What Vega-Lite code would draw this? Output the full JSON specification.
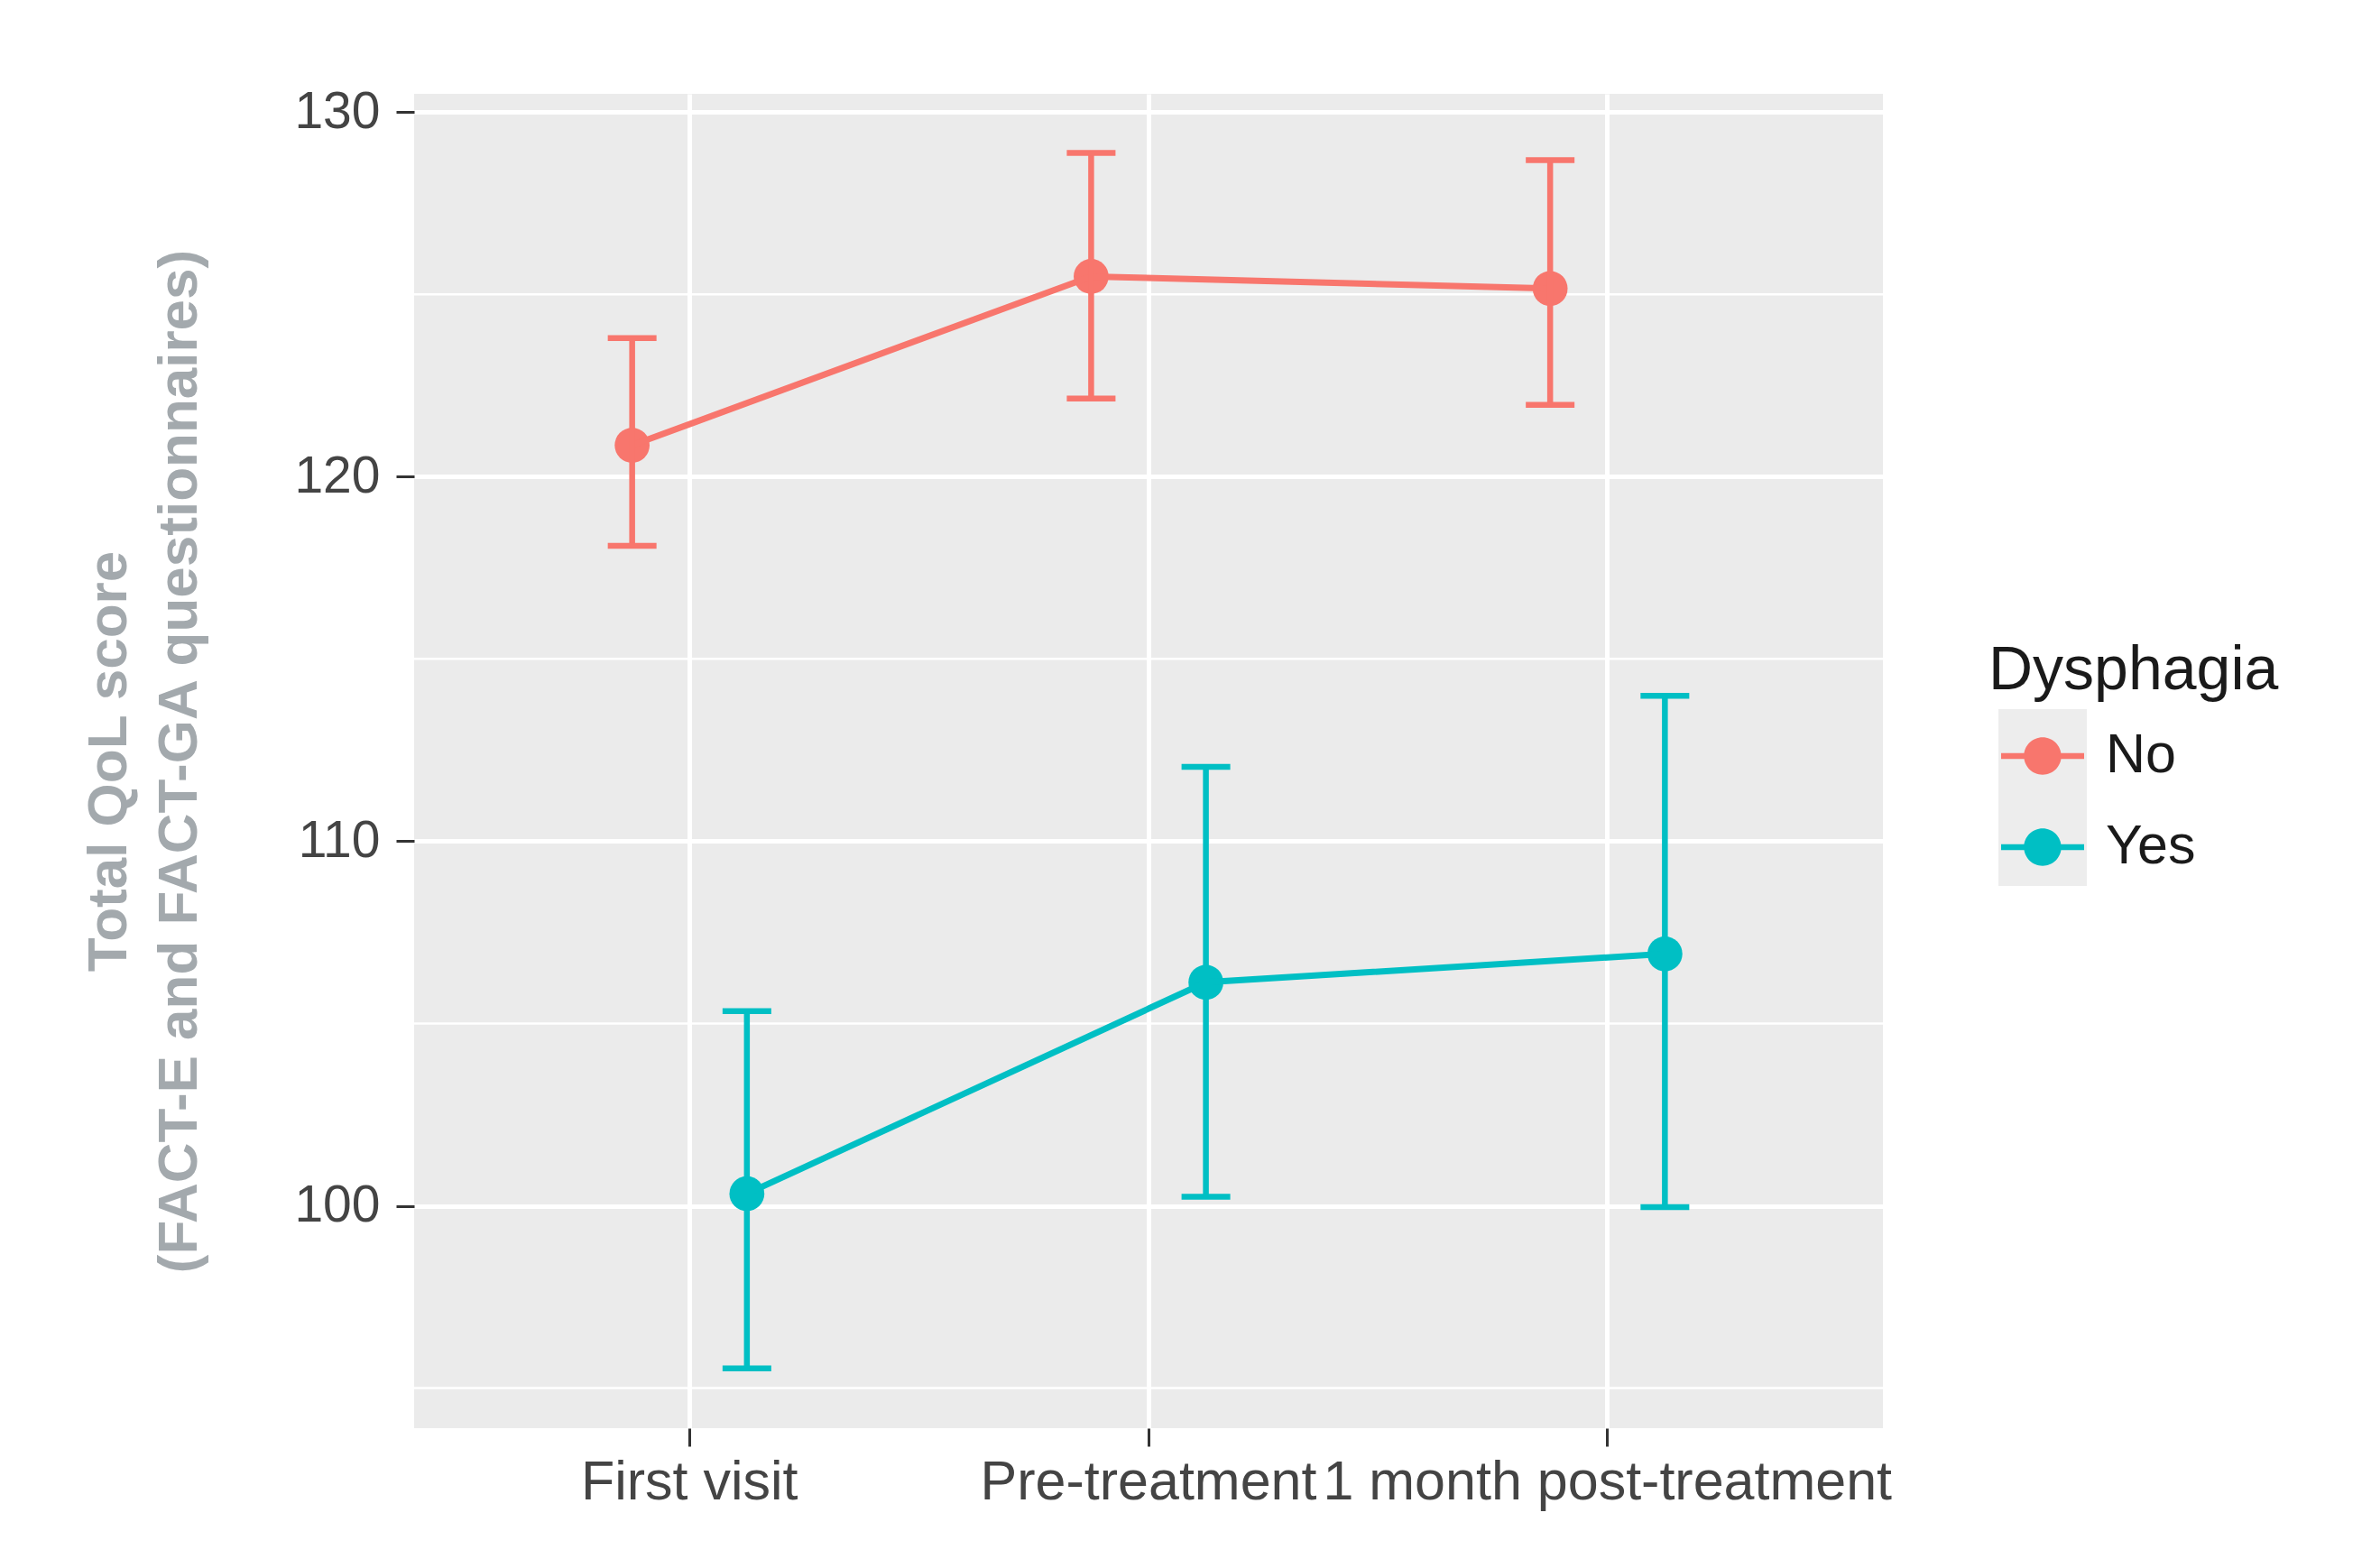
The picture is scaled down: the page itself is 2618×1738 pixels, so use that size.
{
  "$schema": "https://vega.github.io/schema/vega-lite/v6.json",
  "width": 1628,
  "height": 1479,
  "autosize": {"type": "none"},
  "padding": {"left": 459, "top": 104, "right": 531, "bottom": 155},
  "background": "white",
  "config": {
    "view": {"fill": "#EBEBEB", "stroke": null},
    "font": "Liberation Sans"
  },
  "datasets": {
    "qol": [
      {"visit": "First visit", "dysphagia": "No", "mean": 120.86, "lo": 118.1, "hi": 123.8},
      {"visit": "Pre-treatment", "dysphagia": "No", "mean": 125.49, "lo": 122.14, "hi": 128.88},
      {"visit": "1 month post-treatment", "dysphagia": "No", "mean": 125.16, "lo": 121.97, "hi": 128.68},
      {"visit": "First visit", "dysphagia": "Yes", "mean": 100.33, "lo": 95.54, "hi": 105.34},
      {"visit": "Pre-treatment", "dysphagia": "Yes", "mean": 106.13, "lo": 100.25, "hi": 112.04},
      {"visit": "1 month post-treatment", "dysphagia": "Yes", "mean": 106.91, "lo": 99.96, "hi": 113.99}
    ],
    "minor": [{"v": 95}, {"v": 105}, {"v": 115}, {"v": 125}]
  },
  "data": {"name": "qol"},
  "layer": [
    {
      "data": {"name": "minor"},
      "mark": {"type": "rule", "color": "white", "strokeWidth": 2.5},
      "encoding": {
        "y": {"field": "v", "type": "quantitative", "scale": {"domain": [93.9, 130.5], "nice": false, "zero": false},
          "axis": {
            "values": [100, 110, 120, 130],
            "title": ["Total QoL score", "(FACT-E and FACT-GA questionnaires)"],
            "titleFontSize": 62, "titleFontWeight": "bold", "titleColor": "#a3a9ad",
            "titleLineHeight": 78, "titlePadding": 95,
            "labelFontSize": 57, "labelColor": "#444444", "labelPadding": 18,
            "tickSize": 20, "tickColor": "#333333", "tickWidth": 3,
            "grid": true, "gridColor": "white", "gridWidth": 5, "domain": false
          }
        }
      }
    },
    {
      "mark": {"type": "point", "filled": true, "size": 10, "opacity": 0, "color": "#EDEDED"},
      "encoding": {
        "x": {"field": "visit", "type": "nominal", "sort": ["First visit", "Pre-treatment", "1 month post-treatment"],
          "scale": {"paddingInner": 0, "paddingOuter": 0.1},
          "axis": {"title": null, "grid": true, "gridColor": "white", "gridWidth": 5, "bandPosition": 0.5,
            "labelAngle": 0, "labelFontSize": 61, "labelColor": "#444444", "labelLimit": 1000, "labelPadding": 10,
            "labelOverlap": false, "tickSize": 20, "tickColor": "#333333", "tickWidth": 3, "domain": false}
        },
        "xOffset": {"field": "dysphagia", "type": "nominal", "scale": {"paddingInner": 0, "paddingOuter": 1}},
        "y": {"field": "mean", "type": "quantitative"},
        "shape": {"field": "dysphagia", "type": "nominal",
          "scale": {"range": ["square", "square"]},
          "legend": {
            "title": null, "orient": "none", "legendX": 1746, "legendY": 682, "padding": 0,
            "labelExpr": "''", "labelFontSize": 1, "labelOffset": 0,
            "symbolSize": 9604, "symbolOffset": 10, "rowPadding": 0,
            "symbolFillColor": "#EDEDED", "symbolStrokeColor": "transparent", "symbolStrokeWidth": 0, "symbolOpacity": 1,
            "encode": {"symbols": {"update": {"fill": {"value": "#EDEDED"}, "stroke": {"value": "transparent"}, "strokeWidth": {"value": 0}, "opacity": {"value": 1}}}}
          }
        }
      }
    },
    {
      "mark": {"type": "point", "filled": true, "size": 1500, "opacity": 1},
      "encoding": {
        "x": {"field": "visit", "type": "nominal", "sort": ["First visit", "Pre-treatment", "1 month post-treatment"]},
        "xOffset": {"field": "dysphagia", "type": "nominal"},
        "y": {"field": "mean", "type": "quantitative"},
        "color": {"field": "dysphagia", "type": "nominal",
          "scale": {"domain": ["No", "Yes"], "range": ["#F8766D", "#00BFC4"]},
          "legend": {
            "title": "Dysphagia", "orient": "none", "legendX": 1745, "legendY": 606, "padding": 0,
            "titleFontSize": 68, "titleFontWeight": "normal", "titleColor": "#1a1a1a", "titlePadding": 14, "titleLimit": 1000,
            "labelFontSize": 61, "labelColor": "#1a1a1a", "labelOffset": 24,
            "symbolType": "M -1 -0.07 L 1 -0.07 L 1 0.07 L -1 0.07 Z M 0.45 0 A 0.45 0.45 0 1 1 -0.45 0 A 0.45 0.45 0 1 1 0.45 0 Z",
            "symbolSize": 8464, "symbolStrokeWidth": 0, "symbolOffset": 14, "rowPadding": 25,
            "encode": {"symbols": {"update": {"fill": {"scale": "color", "field": "value"}, "stroke": {"value": "transparent"}, "opacity": {"value": 1}}}}
          }
        }
      }
    },
    {
      "mark": {"type": "line", "strokeWidth": 7},
      "encoding": {
        "x": {"field": "visit", "type": "nominal", "sort": ["First visit", "Pre-treatment", "1 month post-treatment"]},
        "xOffset": {"field": "dysphagia", "type": "nominal"},
        "y": {"field": "mean", "type": "quantitative"},
        "color": {"field": "dysphagia", "type": "nominal"}
      }
    },
    {
      "mark": {"type": "rule", "strokeWidth": 6.5},
      "encoding": {
        "x": {"field": "visit", "type": "nominal", "sort": ["First visit", "Pre-treatment", "1 month post-treatment"]},
        "xOffset": {"field": "dysphagia", "type": "nominal"},
        "y": {"field": "lo", "type": "quantitative"},
        "y2": {"field": "hi"},
        "color": {"field": "dysphagia", "type": "nominal"}
      }
    },
    {
      "mark": {"type": "tick", "size": 54, "thickness": 6.5, "opacity": 1},
      "encoding": {
        "x": {"field": "visit", "type": "nominal", "sort": ["First visit", "Pre-treatment", "1 month post-treatment"]},
        "xOffset": {"field": "dysphagia", "type": "nominal"},
        "y": {"field": "lo", "type": "quantitative"},
        "color": {"field": "dysphagia", "type": "nominal"}
      }
    },
    {
      "mark": {"type": "tick", "size": 54, "thickness": 6.5, "opacity": 1},
      "encoding": {
        "x": {"field": "visit", "type": "nominal", "sort": ["First visit", "Pre-treatment", "1 month post-treatment"]},
        "xOffset": {"field": "dysphagia", "type": "nominal"},
        "y": {"field": "hi", "type": "quantitative"},
        "color": {"field": "dysphagia", "type": "nominal"}
      }
    }
  ]
}
